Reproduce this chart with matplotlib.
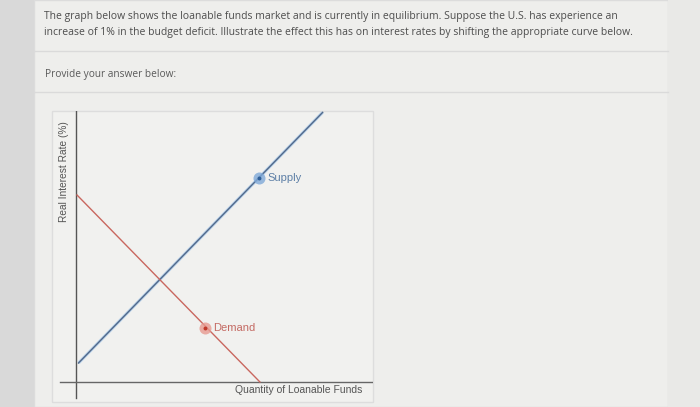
"""Loanable funds market: supply and demand with draggable-curve handles."""

import matplotlib
matplotlib.use("Agg")
import matplotlib.pyplot as plt
from matplotlib.patches import Rectangle

# Curve endpoints (quantity, real interest rate), arbitrary units
supply_q = [0.05, 8.3]
supply_r = [0.7, 9.95]
demand_q = [0.0, 6.18]
demand_r = [6.9, 0.0]

# Handle points on each curve
handle_q = [6.15, 4.32]
handle_r = [7.53, 2.0]
handle_labels = ["Supply", "Demand"]

question_lines = [
    "The graph below shows the loanable funds market and is currently in equilibrium. "
    "Suppose the U.S. has experience an",
    "increase of 1% in the budget deficit. Illustrate the effect this has on interest "
    "rates by shifting the appropriate curve below.",
]
prompt = "Provide your answer below:"

W, H = 700, 407
fig = plt.figure(figsize=(W / 100, H / 100), dpi=100)
fig.patch.set_facecolor("#d9d9d9")

# page background in pixel coordinates
bg = fig.add_axes([0, 0, 1, 1])
bg.set_xlim(0, W)
bg.set_ylim(H, 0)
bg.axis("off")
bg.add_patch(Rectangle((34, 0), 634, H, facecolor="#eeeeec", edgecolor="#dcdcdc", lw=1))
bg.add_patch(Rectangle((668, 0), 32, H, facecolor="#e9e9e7", edgecolor="none"))
bg.plot([34, 668], [51, 51], color="#dadada", lw=1)
bg.plot([34, 668], [92, 92], color="#dadada", lw=1)
for y, line in zip([16, 33], question_lines):
    bg.text(44, y, line, fontsize=7.5, family="Open Sans", color="#4d4d4d", va="center")
bg.text(45, 74, prompt, fontsize=7.3, family="Open Sans", color="#5a5a5a", va="center")
bg.add_patch(Rectangle((52, 111), 321, 291, facecolor="#f1f1ef", edgecolor="#dddddd", lw=1))

# chart axes: data origin sits at pixel (77, 382)
ax = fig.add_axes([52 / W, (H - 402) / H, 321 / W, 291 / H])
ax.set_xlim(-0.845, 10.0)
ax.set_ylim(-0.738, 10.0)
ax.axis("off")

ax.plot([-0.05, -0.05], [-0.6, 10.0], color="#555555", lw=1)
ax.plot([-0.57, 10.0], [0, 0], color="#666666", lw=1)

ax.plot(supply_q, supply_r, color="#b7d1ea", lw=2.2, solid_capstyle="butt")
ax.plot(supply_q, supply_r, color="#52698a", lw=1.0)
ax.plot(demand_q, demand_r, color="#c9675f", lw=1.0)

colors = [("#7fa9d8", "#2f5f98", "#5d7fa6"), ("#e79a90", "#c0392b", "#c46a63")]
for q, r, lab, (halo, dot, txt) in zip(handle_q, handle_r, handle_labels, colors):
    ax.scatter([q], [r], s=75, color=halo, alpha=0.8, zorder=3, linewidths=0)
    ax.scatter([q], [r], s=8, color=dot, zorder=4, linewidths=0)
    ax.text(q + 0.28, r, lab, fontsize=8, family="Liberation Sans", color=txt,
            va="center", ha="left")

ax.text(-0.44, 7.75, "Real Interest Rate (%)", rotation=90, fontsize=7.3,
        family="Liberation Sans", color="#555555", ha="center", va="center")
ax.text(7.5, -0.3, "Quantity of Loanable Funds", fontsize=7.5,
        family="Liberation Sans", color="#555555", ha="center", va="center")

fig.savefig("out.png", dpi=100, facecolor=fig.get_facecolor())
